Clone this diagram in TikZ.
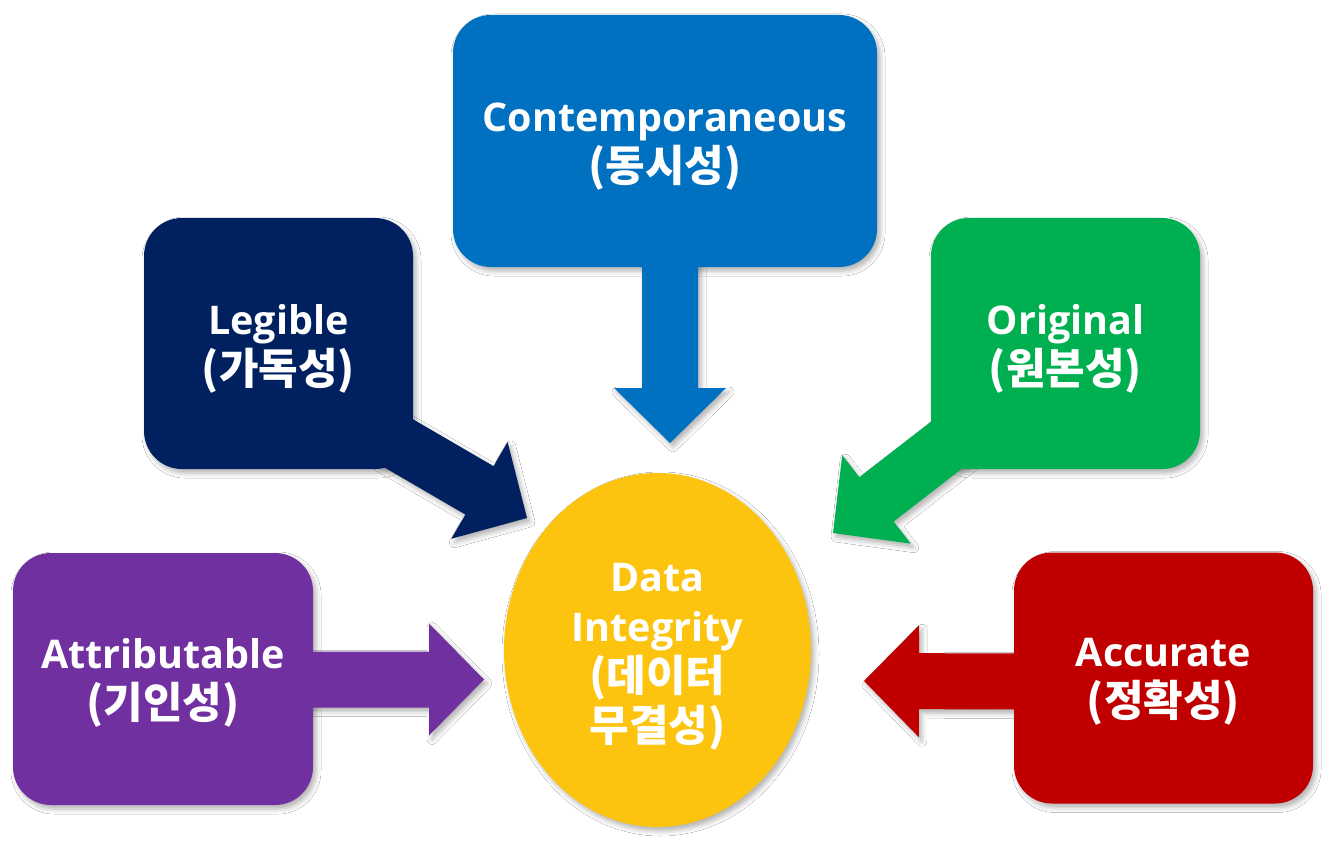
\documentclass[tikz,border=0pt]{standalone}
\usepackage{fontspec}
\setmainfont{Open Sans}
\newfontfamily\ko{Noto Sans CJK KR}
\usetikzlibrary{calc,shapes.geometric,shadows.blur}
\definecolor{cPurple}{HTML}{7030A0}
\definecolor{cNavy}{HTML}{002060}
\definecolor{cBlue}{HTML}{0070C0}
\definecolor{cGreen}{HTML}{00B050}
\definecolor{cRed}{HTML}{C00000}
\definecolor{cGold}{HTML}{FCC30F}
\tikzset{
  softshadow/.style={blur shadow={shadow xshift=3pt, shadow yshift=-4pt, shadow blur radius=5pt, shadow opacity=30}},
  labeltext/.style={text=white, align=center, inner sep=0pt, font=\fontsize{39.5}{50}\selectfont\bfseries},
  card/.style={rectangle, rounded corners=38pt, inner sep=0pt, softshadow},
  hub/.style={ellipse, inner sep=0pt, softshadow, fill=cGold},
}
\newcommand\kr[1]{{\ko\fontsize{43}{50}\selectfont #1}}
% arrow outline from start #1 to tip #2
\newcommand\arrowpath[2]{($(#1)!28pt!90:(#2)$) -- ($($(#2)!55pt!(#1)$)!28pt!-90:(#1)$) -- ($($(#2)!55pt!(#1)$)!56pt!-90:(#1)$) -- (#2) -- ($($(#2)!55pt!(#1)$)!56pt!90:(#1)$) -- ($($(#2)!55pt!(#1)$)!28pt!90:(#1)$) -- ($(#1)!28pt!-90:(#2)$) -- cycle}
\begin{document}
\begin{tikzpicture}[x=1pt,y=-1pt]
\useasboundingbox (0,0) rectangle (1329,842);
\fill[white] (0,0) rectangle (1329,842);

\coordinate (con-s) at (670,250);   \coordinate (con-t) at (670,443);
\coordinate (leg-s) at (380,432.5); \coordinate (leg-t) at (527,518);
\coordinate (ori-s) at (959.6,435); \coordinate (ori-t) at (833,533);
\coordinate (att-s) at (295,679.5); \coordinate (att-t) at (484,679.5);
\coordinate (acc-s) at (1030,681.5); \coordinate (acc-t) at (864,681);

% shadows of the arrows
\path[softshadow] \arrowpath{con-s}{con-t};
\path[softshadow] \arrowpath{leg-s}{leg-t};
\path[softshadow] \arrowpath{ori-s}{ori-t};
\path[softshadow] \arrowpath{att-s}{att-t};
\path[softshadow] \arrowpath{acc-s}{acc-t};

% boxes and hub
\node[card, fill=cBlue, minimum width=424pt, minimum height=252pt] (con) at (665,141) {};
\node[card, fill=cNavy, minimum width=269pt, minimum height=251pt] (leg) at (278.5,343.5) {};
\node[card, fill=cGreen, minimum width=269pt, minimum height=251pt] (ori) at (1065.5,343.5) {};
\node[card, fill=cPurple, minimum width=300pt, minimum height=252pt] (att) at (163,679) {};
\node[card, fill=cRed, minimum width=299pt, minimum height=251pt] (acc) at (1163.5,678) {};
\node[hub, minimum width=307pt, minimum height=354pt] (hub) at (657.5,650) {};

% arrow bodies
\fill[cBlue] \arrowpath{con-s}{con-t};
\fill[cNavy] \arrowpath{leg-s}{leg-t};
\fill[cGreen] \arrowpath{ori-s}{ori-t};
\fill[cPurple] \arrowpath{att-s}{att-t};
\fill[cRed] \arrowpath{acc-s}{acc-t};

% labels
\node[labeltext] (con-l) at ($(con)+(0,6)$) {Contemporaneous\\\kr{(동시성)}};
\node[labeltext] (leg-l) at ($(leg)+(0,5)$) {Legible\\\kr{(가독성)}};
\node[labeltext] (ori-l) at ($(ori)+(0,5)$) {Original\\\kr{(원본성)}};
\node[labeltext] (att-l) at ($(att)+(0,4)$) {Attributable\\\kr{(기인성)}};
\node[labeltext] (acc-l) at ($(acc)+(0,4)$) {Accurate\\\kr{(정확성)}};
\node[labeltext] (hub-l) at ($(hub)+(0,7)$) {Data\\Integrity\\\kr{(데이터}\\\kr{무결성)}};
\end{tikzpicture}
\end{document}
